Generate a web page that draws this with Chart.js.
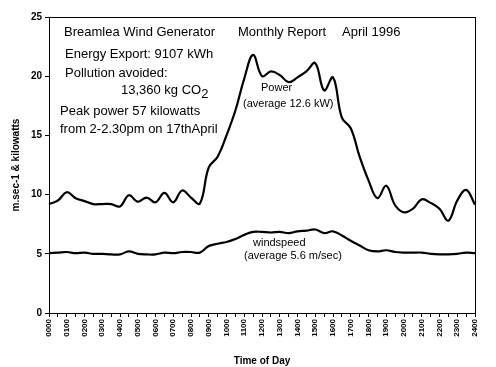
<!DOCTYPE html>
<html><head><meta charset="utf-8">
<script src="https://cdn.jsdelivr.net/npm/chart.js@4/dist/chart.umd.min.js"></script>
<style>html,body{margin:0;padding:0;background:#fff}#wrap{width:496px;height:367px}</style>
</head><body><div id="wrap"><canvas id="c" width="496" height="367"></canvas></div>
<script>
const timeLabels = ["0000","0030","0100","0130","0200","0230","0300","0330","0400","0430","0500","0530","0600","0630","0700","0730","0800","0830","0900","0930","1000","1030","1100","1130","1200","1230","1300","1330","1400","1430","1500","1530","1600","1630","1700","1730","1800","1830","1900","1930","2000","2030","2100","2130","2200","2230","2300","2330","2400"];
const powerKW = [9.2,9.5,10.2,9.7,9.45,9.2,9.2,9.2,9.0,9.95,9.4,9.75,9.35,10.15,9.35,10.35,9.75,9.25,12.3,13.2,15.0,17.1,19.8,21.8,20.0,20.4,20.1,19.5,19.9,20.4,21.1,18.8,19.9,16.5,15.6,13.2,11.2,9.7,10.75,9.1,8.5,8.8,9.6,9.3,8.8,7.8,9.5,10.4,9.15];
const windMS = [5.05,5.1,5.15,5.05,5.1,5.0,5.0,4.95,4.95,5.2,5.0,4.95,4.95,5.1,5.05,5.15,5.15,5.1,5.65,5.85,6.0,6.25,6.6,6.85,6.85,6.8,6.85,6.75,6.9,6.95,7.05,6.75,6.9,6.55,6.1,5.7,5.3,5.2,5.3,5.15,5.1,5.1,5.1,5.0,4.95,4.95,5.0,5.1,5.05];
const yTicks = [0,5,10,15,20,25];

const FONT = "'Liberation Sans', Arial, sans-serif";

const overlay = {
  id: 'overlay',
  afterDraw(chart) {
    const ctx = chart.ctx, a = chart.chartArea;
    ctx.save();
    ctx.strokeStyle = '#000'; ctx.lineWidth = 1;
    ctx.strokeRect(a.left + 0.5, a.top + 0.5, a.right - a.left, a.bottom - a.top);
    ctx.fillStyle = '#000';
    ctx.textBaseline = 'middle'; ctx.textAlign = 'left';
    ctx.font = '13px ' + FONT;
    ctx.fillText('Breamlea Wind Generator', 64, 32);
    ctx.fillText('Monthly Report', 238, 32);
    ctx.fillText('April 1996', 342, 32);
    ctx.fillText('Energy Export: 9107 kWh', 65, 54);
    ctx.fillText('Pollution avoided:', 65, 73);
    ctx.fillText('13,360 kg CO', 121, 90);
    const w = ctx.measureText('13,360 kg CO').width;
    ctx.fillText('2', 121 + w, 94);
    ctx.fillText('Peak power 57 kilowatts', 60, 111);
    ctx.fillText('from 2-2.30pm on 17thApril', 60, 129);
    ctx.font = '11px ' + FONT;
    ctx.fillText('Power', 261, 88);
    ctx.fillText('(average 12.6 kW)', 243, 104);
    ctx.fillText('windspeed', 253, 243);
    ctx.fillText('(average 5.6 m/sec)', 244, 256);
    ctx.restore();
  }
};

new Chart(document.getElementById('c'), {
  type: 'line',
  data: {
    labels: timeLabels,
    datasets: [
      { label: 'Power', data: powerKW, borderColor: '#000', borderWidth: 2.2, pointRadius: 0, tension: 0.4, fill: false },
      { label: 'Windspeed', data: windMS, borderColor: '#000', borderWidth: 2.2, pointRadius: 0, tension: 0.4, fill: false }
    ]
  },
  options: {
    responsive: false,
    animation: false,
    devicePixelRatio: 1,
    layout: { padding: { top: 17, right: 21, left: 0, bottom: 0 } },
    plugins: { legend: { display: false }, tooltip: { enabled: false } },
    scales: {
      x: {
        type: 'category',
        offset: false,
        grid: { display: true, drawOnChartArea: false, drawTicks: true, tickLength: 4, color: '#000' },
        border: { display: true, color: '#000', width: 1 },
        ticks: {
          autoSkip: false, minRotation: 90, maxRotation: 90, padding: 2,
          color: '#000', font: { family: FONT, size: 8, weight: 'bold' },
          callback: function(v, i) { return i % 2 === 0 ? timeLabels[i] : ''; }
        },
        title: { display: true, text: 'Time of Day', color: '#000', font: { family: FONT, size: 10, weight: 'bold' }, padding: { top: 4, bottom: 0 } },
        afterFit(s) { s.height = 54; }
      },
      y: {
        min: 0, max: 25,
        afterBuildTicks(s) { s.ticks = yTicks.map(v => ({ value: v })); },
        grid: { display: true, drawOnChartArea: false, drawTicks: true, tickLength: 4, color: '#000' },
        border: { display: true, color: '#000', width: 1 },
        ticks: { color: '#000', padding: 3, font: { family: FONT, size: 10, weight: 'bold' } },
        title: { display: true, text: 'm.sec-1 & kilowatts', color: '#000', font: { family: FONT, size: 10, weight: 'bold' }, padding: { top: 10, bottom: 4 } },
        afterFit(s) { s.width = 49; }
      }
    }
  },
  plugins: [overlay]
});
</script>
</body></html>
